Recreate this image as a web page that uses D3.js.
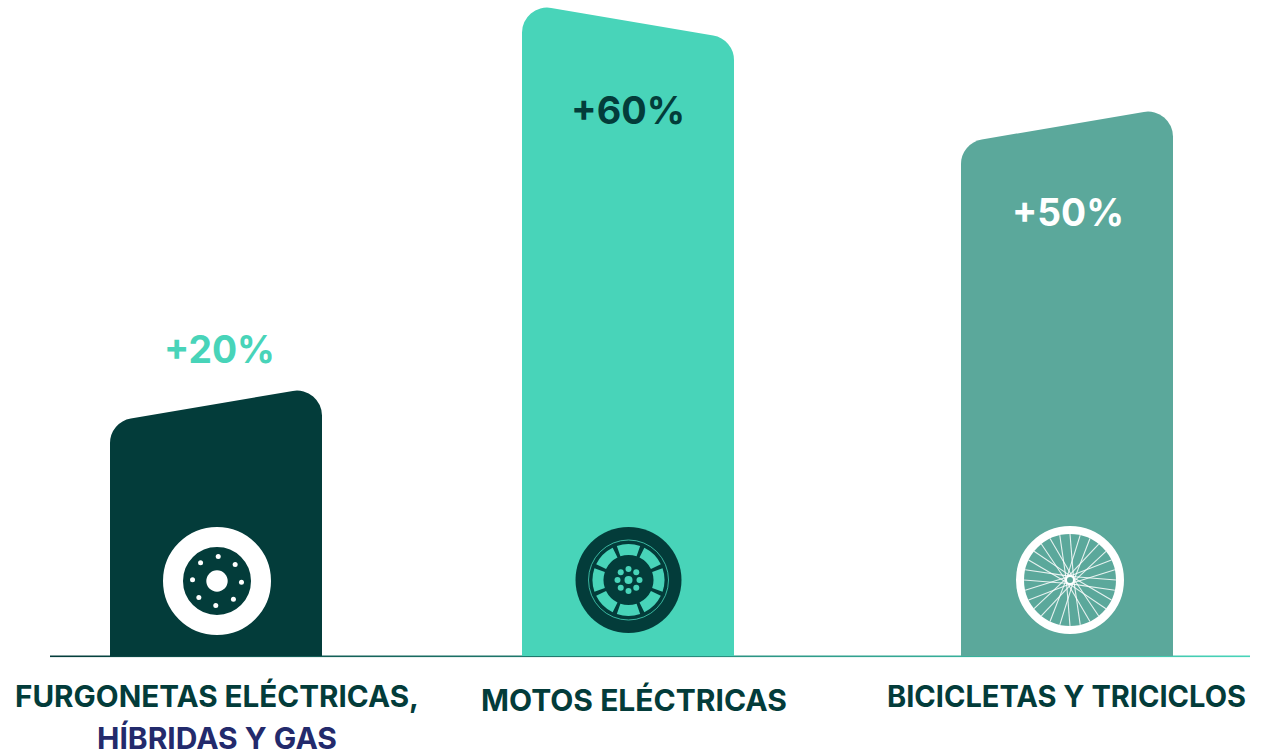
<!DOCTYPE html>
<html lang="es">
<head>
<meta charset="UTF-8">
<title>Crecimiento por tipo de vehículo</title>
<script src="https://d3js.org/d3.v7.min.js"></script>
<style>
    html, body { margin: 0; padding: 0; background: #fff; }
    svg { display: block; }
    text { font-family: "Inter", "Noto Sans", sans-serif; }
    .label { font-size: 29.5px; font-weight: 700; }
    .pct { font-size: 38px; font-weight: 700; }
</style>
</head>
<body>
<div id="chart"></div>
<script>
    // Data
    const categories = ["furgonetas", "motos", "bicicletas"];
    const values = [20, 60, 50];
    const valueLabels = ["+20%", "+60%", "+50%"];
    const labelLines = [
        ["FURGONETAS ELÉCTRICAS,", "HÍBRIDAS Y GAS"],
        ["MOTOS ELÉCTRICAS"],
        ["BICICLETAS Y TRICICLOS"]
    ];

    const width = 1270, height = 756;
    const baseY = 656, barW = 212, radius = 25, slant = 36;
    const dark = "#033c3a", teal = "#48d4b9", muted = "#5ba89b", navy = "#232a6c";
    const fills = [dark, teal, muted];
    const pctColors = [teal, dark, "#ffffff"];
    const slopes = [-1, 1, -1];  // top edge rises or falls to the right

    // bars are not evenly spaced, and heights are not proportional in the original
    const x = d3.scaleOrdinal().domain(categories).range([110, 522, 961]);
    const y = d3.scaleLinear().domain([0, 20, 50, 60]).range([baseY, 386, 107, 3]);

    const svg = d3.select("#chart").append("svg")
        .attr("width", width).attr("height", height);

    // Baseline gradient
    const grad = svg.append("defs").append("linearGradient").attr("id", "baseGrad");
    grad.append("stop").attr("offset", "0%").attr("stop-color", dark);
    grad.append("stop").attr("offset", "100%").attr("stop-color", teal);

    svg.append("rect")
        .attr("x", 50).attr("y", baseY - 0.5)
        .attr("width", 1200).attr("height", 1.6)
        .attr("fill", "url(#baseGrad)");

    // Bar outline with slanted top, corners rounded by arcTo
    function barPath(cat, v, slope) {
        const l = x(cat), r = l + barW, top = y(v);
        const yl = slope < 0 ? top + slant : top;
        const yr = slope < 0 ? top : top + slant;
        const p = d3.path();
        p.moveTo(l, baseY);
        p.arcTo(l, yl, r, yr, radius);
        p.arcTo(r, yr, r, baseY, radius);
        p.lineTo(r, baseY);
        p.closePath();
        return p.toString();
    }

    svg.selectAll("path.bar")
        .data(categories)
        .join("path")
        .attr("class", "bar")
        .attr("d", (d, i) => barPath(d, values[i], slopes[i]))
        .attr("fill", (d, i) => fills[i]);

    // Percentages
    const pctPos = [{cx: 219.5, y: 363, w: 111}, {cx: 628, y: 124, w: 114}, {cx: 1068, y: 226, w: 112}];
    svg.selectAll("text.pct")
        .data(valueLabels)
        .join("text")
        .attr("class", "pct")
        .attr("x", (d, i) => pctPos[i].cx - pctPos[i].w / 2)
        .attr("y", (d, i) => pctPos[i].y)
        .attr("textLength", (d, i) => pctPos[i].w)
        .attr("lengthAdjust", "spacingAndGlyphs")
        .attr("fill", (d, i) => pctColors[i])
        .text(d => d);

    // Category labels
    const labelPos = [
        [{x0: 15, x1: 419, y: 707, c: dark}, {x0: 97, x1: 337, y: 749, c: navy}],
        [{x0: 481, x1: 787, y: 711, c: dark}],
        [{x0: 887, x1: 1246, y: 707, c: dark}]
    ];
    labelLines.forEach((lines, i) => {
        lines.forEach((line, j) => {
            const pos = labelPos[i][j];
            svg.append("text")
                .attr("class", "label")
                .attr("x", pos.x0).attr("y", pos.y)
                .attr("textLength", pos.x1 - pos.x0)
                .attr("lengthAdjust", "spacingAndGlyphs")
                .attr("fill", pos.c)
                .text(line);
        });
    });

    const polar = (r, a) => [r * Math.cos(a), r * Math.sin(a)];

    // Icon 1: brake disc
    const disc = svg.append("g").attr("transform", "translate(217,581)");
    disc.append("circle").attr("r", 44).attr("fill", "none").attr("stroke", "#fff").attr("stroke-width", 20);
    disc.append("circle").attr("r", 10.7).attr("fill", "#fff");
    disc.selectAll("circle.dot")
        .data(d3.range(8))
        .join("circle")
        .attr("class", "dot")
        .attr("cx", d => polar(24.5, d * Math.PI / 4 + 0.05)[0])
        .attr("cy", d => polar(24.5, d * Math.PI / 4 + 0.05)[1])
        .attr("r", 2.5).attr("fill", "#fff");

    // Icon 2: motorcycle wheel
    const moto = svg.append("g").attr("transform", "translate(628.5,580)");
    moto.append("circle").attr("r", 53).attr("fill", dark);
    moto.append("circle").attr("r", 40).attr("fill", "none").attr("stroke", teal).attr("stroke-width", 0.8);
    const windowArc = d3.arc().innerRadius(25).outerRadius(36);
    moto.selectAll("path.win")
        .data(d3.range(8))
        .join("path")
        .attr("class", "win")
        .attr("d", d => windowArc({
            startAngle: d * Math.PI / 4 - 0.33,
            endAngle: d * Math.PI / 4 + 0.33
        }))
        .attr("fill", teal);
    moto.selectAll("circle.petal")
        .data(d3.range(8))
        .join("circle")
        .attr("class", "petal")
        .attr("cx", d => polar(11, d * Math.PI / 4 + Math.PI / 2)[0])
        .attr("cy", d => polar(11, d * Math.PI / 4 + Math.PI / 2)[1])
        .attr("r", 3).attr("fill", teal);
    moto.append("circle").attr("r", 4).attr("fill", teal);

    // Icon 3: bicycle wheel
    const bike = svg.append("g").attr("transform", "translate(1070,580)");
    bike.append("circle").attr("r", 50).attr("fill", "none").attr("stroke", "#fff").attr("stroke-width", 8);
    bike.selectAll("line.spoke")
        .data(d3.range(28))
        .join("line")
        .attr("class", "spoke")
        .attr("x1", d => polar(4, d * Math.PI / 14 + (d % 2 ? 1.1 : -1.1))[0])
        .attr("y1", d => polar(4, d * Math.PI / 14 + (d % 2 ? 1.1 : -1.1))[1])
        .attr("x2", d => polar(46, d * Math.PI / 14)[0])
        .attr("y2", d => polar(46, d * Math.PI / 14)[1])
        .attr("stroke", "#fff").attr("stroke-width", 1.1).attr("stroke-opacity", 0.85);
    bike.append("circle").attr("r", 4).attr("fill", muted).attr("stroke", "#fff").attr("stroke-width", 2);
</script>
</body>
</html>
